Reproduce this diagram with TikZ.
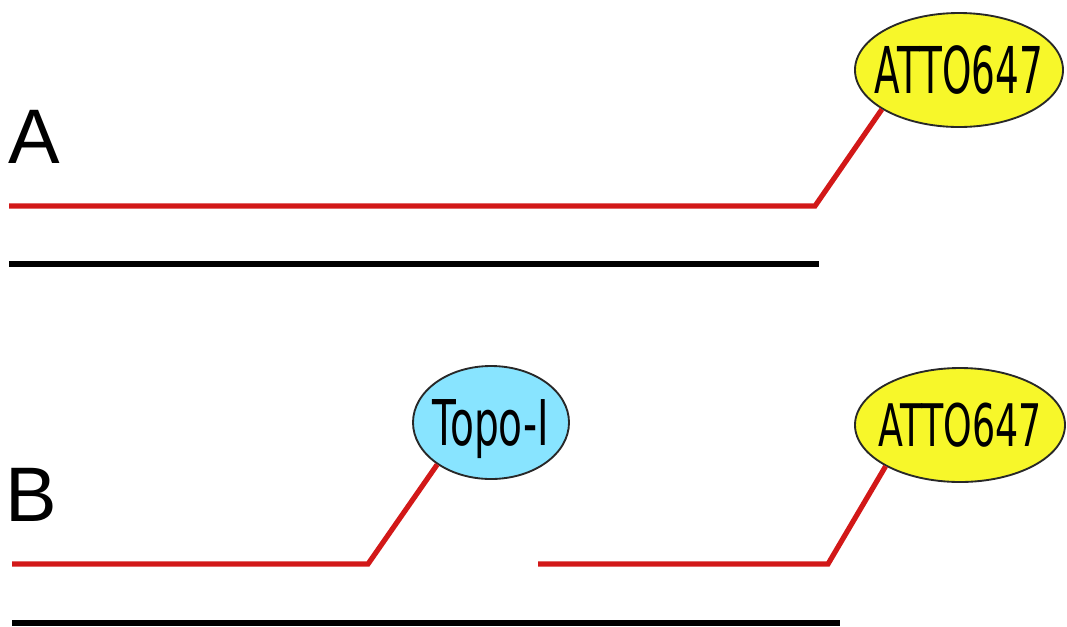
\documentclass[tikz,border=0pt]{standalone}
\usepackage{fontspec}
\setmainfont{Liberation Sans}
\newfontfamily\labelfont{DejaVu Sans}
\usetikzlibrary{shapes.geometric}
\definecolor{strandred}{RGB}{210,24,24}
\definecolor{dyeyellow}{RGB}{247,247,42}
\definecolor{enzymeblue}{RGB}{136,228,255}
\definecolor{rimgray}{RGB}{40,40,40}
% label text that does not enlarge its ellipse: zero-size box, centred on the node
\newcommand{\taglabel}[3]{\smash{\makebox[0pt]{\raisebox{-0.5\height}{\labelfont\fontsize{#1}{#1}\selectfont\scalebox{#2}[1]{#3}}}}}
\tikzset{
  strand/.style={draw=strandred, line width=3.9pt},
  template/.style={draw=black, line width=4.3pt},
  tag/.style={ellipse, draw=rimgray, line width=1.4pt, inner sep=0pt},
  panel/.style={anchor=base west, inner sep=0pt, font=\fontsize{58}{58}\selectfont},
}
\begin{document}
\begin{tikzpicture}[x=0.75pt, y=-0.75pt]
  \useasboundingbox (0,0) rectangle (1067,626);

  % panel A
  \node[panel] (la) at (8,163) {A};
  \node[tag, fill=dyeyellow, minimum width=156pt, minimum height=85.5pt] (dyeA) at (959,70)
    {\taglabel{48.4}{0.58}{ATTO647}};
  \coordinate (a0) at (9,206);
  \coordinate (a1) at (815,206);
  \coordinate (t0) at (9,264);
  \coordinate (t1) at (819,264);
  \draw[strand] (a0) -- (a1) -- (dyeA.207);
  \draw[template] (t0) -- (t1);

  % panel B
  \node[panel] (lb) at (5,521) {B};
  \node[tag, fill=enzymeblue, minimum width=117pt, minimum height=84.75pt] (topo) at (491,422.5)
    {\taglabel{47.3}{0.62}{Topo-I}};
  \node[tag, fill=dyeyellow, minimum width=157.5pt, minimum height=85.5pt] (dyeB) at (960,425)
    {\taglabel{44}{0.62}{ATTO647}};
  \coordinate (b0) at (12,564);
  \coordinate (b1) at (368,564);
  \coordinate (c0) at (538,564);
  \coordinate (c1) at (828,564);
  \coordinate (u0) at (12,623);
  \coordinate (u1) at (840,623);
  \draw[strand] (b0) -- (b1) -- (topo.218);
  \draw[strand] (c0) -- (c1) -- (dyeB.209);
  \draw[template] (u0) -- (u1);
\end{tikzpicture}
\end{document}
